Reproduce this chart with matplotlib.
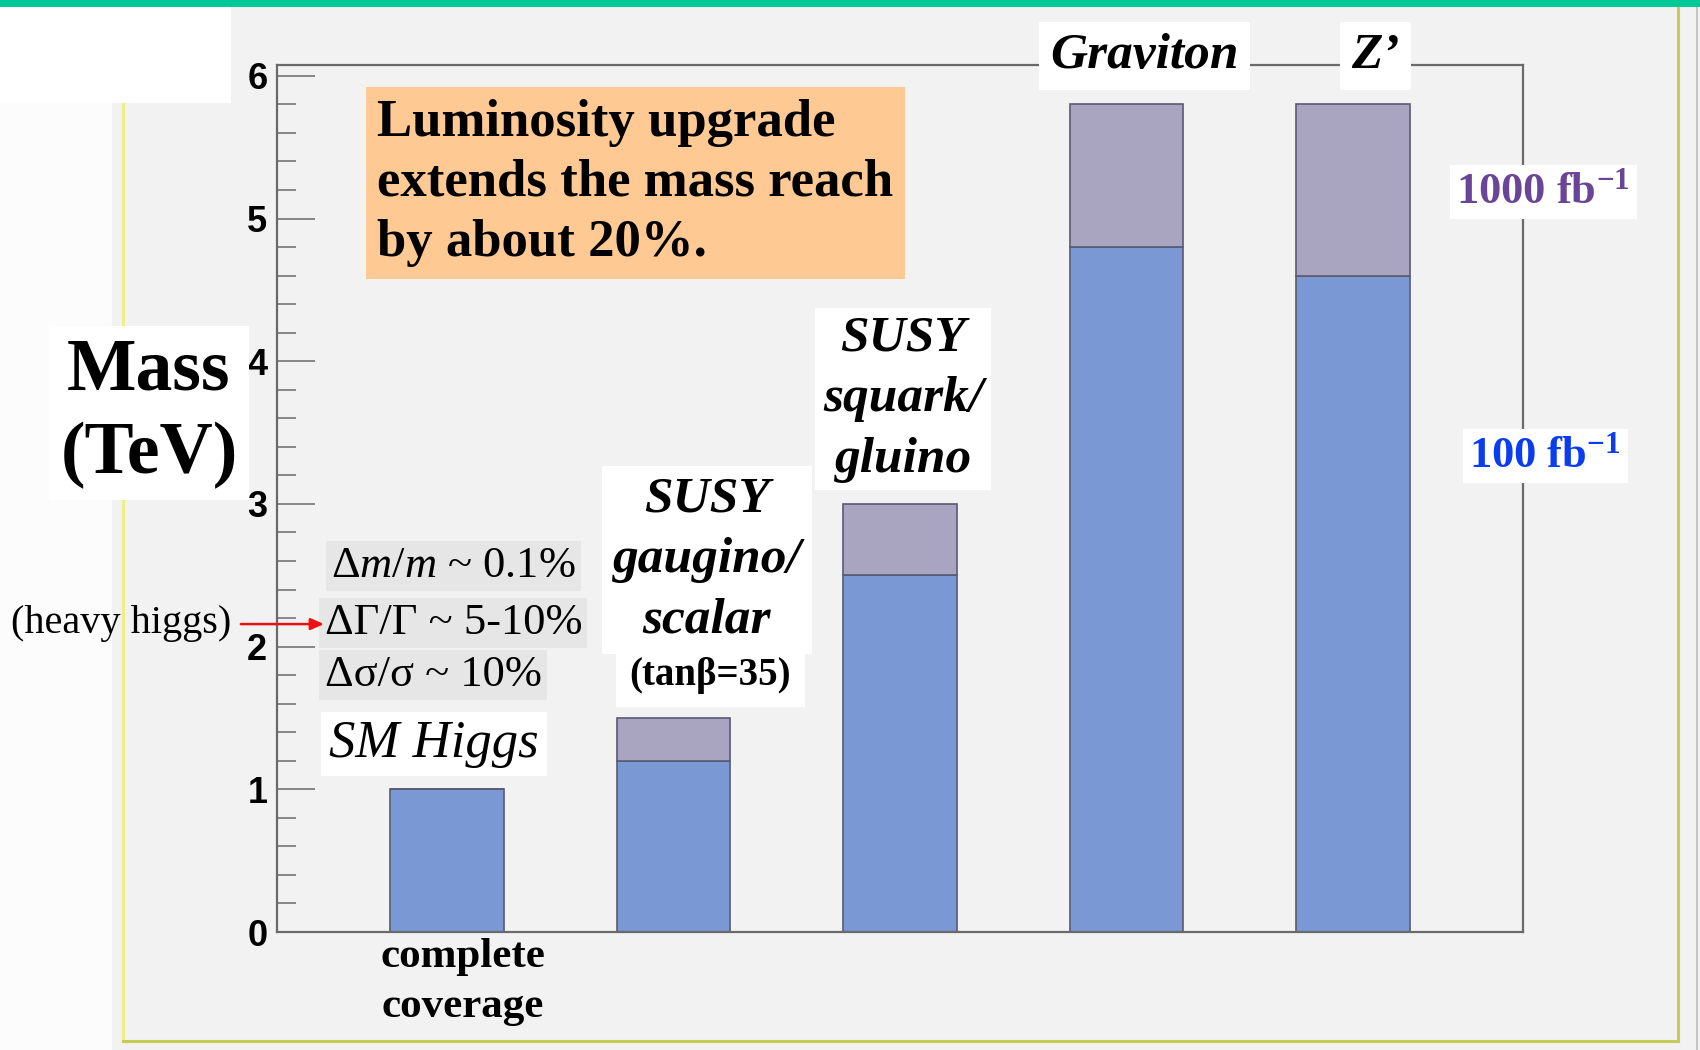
import matplotlib
matplotlib.use("Agg")
import matplotlib.pyplot as plt
from matplotlib.patches import Rectangle
from matplotlib.lines import Line2D
from matplotlib.ticker import MultipleLocator

plt.rcParams["font.family"] = ["Liberation Serif", "DejaVu Serif"]
plt.rcParams["mathtext.fontset"] = "custom"
plt.rcParams["mathtext.rm"] = "Liberation Serif"
plt.rcParams["mathtext.it"] = "Liberation Serif:italic"
plt.rcParams["mathtext.bf"] = "Liberation Serif:bold"

# reach per process, TeV
positions = [0, 1, 2, 3, 4]
reach_100fb = [1.0, 1.2, 2.5, 4.8, 4.6]
reach_1000fb = [1.0, 1.5, 3.0, 5.8, 5.8]
y_ticks = [0, 1, 2, 3, 4, 5, 6]

BG = "#F2F2F2"
BLUE = "#7A98D3"
GREY = "#A9A4BF"
EDGE = "#5A5A72"
AXCOL = "#6A6A6A"

fig = plt.figure(figsize=(17, 10.5), dpi=100, facecolor=BG)

W, H = 1700.0, 1050.0


def px_rect(x0, y0, x1, y1, **kw):
    # rectangle given in pixel coords from top-left
    r = Rectangle((x0 / W, 1 - y1 / H), (x1 - x0) / W, (y1 - y0) / H,
                  transform=fig.transFigure, **kw)
    fig.patches.append(r)


def px_line(xs, ys, **kw):
    fig.lines.append(Line2D([x / W for x in xs], [1 - y / H for y in ys],
                            transform=fig.transFigure, **kw))


# slide decorations
px_rect(0, 7, 112, 1050, facecolor="#FCFCFC", edgecolor="none", zorder=0)
px_rect(0, 0, 1700, 7, facecolor="#00C896", edgecolor="none", zorder=5)
px_line([123, 123], [103, 1041], color="#F0EE88", lw=2.2, zorder=1)
px_line([123, 1678], [1041, 1041], color="#C6CC52", lw=2.2, zorder=1)
px_line([1678, 1678], [7, 1041], color="#C6CC52", lw=2.2, zorder=1)
px_line([1697, 1697], [7, 1050], color="#BDBDBD", lw=1.2, zorder=1)
px_rect(0, 7, 231, 103, facecolor="white", edgecolor="none", zorder=2)

ax = fig.add_axes([277 / W, (H - 932) / H, 1246 / W, 867 / H])
ax.set_facecolor(BG)

extra = [b - a for a, b in zip(reach_100fb, reach_1000fb)]
ax.bar(positions, reach_100fb, width=0.5, color=BLUE, edgecolor=EDGE, linewidth=1.2, zorder=2)
ax.bar(positions, extra, width=0.5, bottom=reach_100fb, color=GREY, edgecolor=EDGE,
       linewidth=1.2, zorder=2)

ax.set_xlim(-0.75, 4.75)
ax.set_ylim(0, 6.076)
ax.set_xticks([])
ax.set_yticks(y_ticks)
ax.yaxis.set_minor_locator(MultipleLocator(0.2))
ax.tick_params(axis="y", which="major", direction="in", length=27, width=1.1,
               color=AXCOL, pad=7)
ax.tick_params(axis="y", which="minor", direction="in", length=14, width=1.1, color=AXCOL)
for lab in ax.get_yticklabels():
    lab.set_family(["Liberation Sans", "DejaVu Sans"])
    lab.set_fontweight("bold")
    lab.set_fontsize(26)
for s in ax.spines.values():
    s.set_color(AXCOL)
    s.set_linewidth(1.6)

white = dict(boxstyle="square,pad=0.15", facecolor="white", edgecolor="none")

# callout box
ax.text(-0.308, 5.25, "Luminosity upgrade\nextends the mass reach\nby about 20%.",
        ha="left", va="center", fontsize=38, fontweight="bold", linespacing=1.33,
        bbox=dict(boxstyle="square,pad=0.22", facecolor="#FFC994", edgecolor="none"), zorder=5)

# process labels
ax.text(-0.057, 1.317, "SM Higgs", ha="center", va="center", fontsize=38, style="italic",
        bbox=white, zorder=5)
ax.text(1.148, 2.607, "SUSY\ngaugino/\nscalar", ha="center", va="center", fontsize=37,
        style="italic", fontweight="bold", linespacing=1.42,
        bbox=dict(boxstyle="square,pad=0.2", facecolor="white", edgecolor="none"), zorder=5)
ax.text(1.162, 1.80, "(tanβ=35)", ha="center", va="center", fontsize=28, fontweight="bold",
        bbox=dict(boxstyle="square,pad=0.35", facecolor="white", edgecolor="none"), zorder=4)
ax.text(2.014, 3.735, "SUSY\nsquark/\ngluino", ha="center", va="center", fontsize=37,
        style="italic", fontweight="bold", linespacing=1.42, bbox=white, zorder=5)
ax.text(3.078, 6.139, "Graviton", ha="center", va="center", fontsize=37, style="italic",
        fontweight="bold", bbox=dict(boxstyle="square,pad=0.22", facecolor="white", edgecolor="none"),
        zorder=5, clip_on=False)
ax.text(4.098, 6.139, "Z’", ha="center", va="center", fontsize=37, style="italic",
        fontweight="bold", bbox=dict(boxstyle="square,pad=0.22", facecolor="white", edgecolor="none"),
        zorder=5, clip_on=False)
ax.text(0.07, -0.35, "complete\ncoverage", ha="center", va="center", fontsize=31,
        fontweight="bold", linespacing=1.42, clip_on=False)

# luminosity labels
ax.text(4.455, 5.186, r"1000 fb$^{\mathbf{-1}}$", ha="left", va="center", fontsize=32,
        fontweight="bold", color="#6A4496", bbox=white, zorder=5, clip_on=False)
ax.text(4.513, 3.336, r"100 fb$^{\mathbf{-1}}$", ha="left", va="center", fontsize=32,
        fontweight="bold", color="#0A3CF0", bbox=white, zorder=5, clip_on=False)

# heavy higgs precision
grey = dict(boxstyle="square,pad=0.12", facecolor="#E6E6E6", edgecolor="none")
ax.text(-0.51, 2.565, r"Δ$\mathit{m/m}$ ~ 0.1%", ha="left", va="center", fontsize=32,
        bbox=grey, zorder=5, clip_on=False)
ax.text(-0.54, 2.165, "ΔΓ/Γ ~ 5-10%", ha="left", va="center", fontsize=32,
        bbox=grey, zorder=5, clip_on=False)
ax.text(-0.54, 1.80, "Δσ/σ ~ 10%", ha="left", va="center", fontsize=32,
        bbox=grey, zorder=5, clip_on=False)
ax.annotate("", xy=(-0.53, 2.158), xytext=(-0.922, 2.158),
            arrowprops=dict(arrowstyle="-|>,head_length=0.8,head_width=0.35", color="#EE1111",
                            lw=1.8), annotation_clip=False, zorder=6)
fig.text(11 / W, 1 - 624 / H, "(heavy higgs)", ha="left", va="center", fontsize=29)

# axis title
fig.text(149 / W, 1 - 413 / H, "Mass\n(TeV)", ha="center", va="center", fontsize=53,
         fontweight="bold", linespacing=1.3, bbox=white, zorder=5)

fig.savefig("out.png", dpi=100, facecolor=BG)
